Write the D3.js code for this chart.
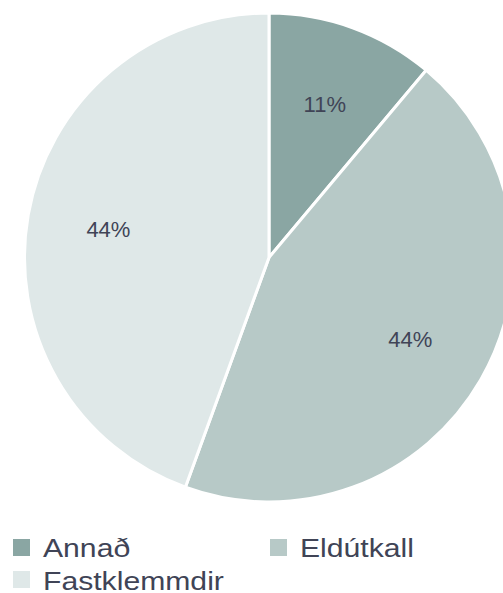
<!DOCTYPE html>
<html>
<head>
<meta charset="utf-8">
<script src="https://cdn.jsdelivr.net/npm/d3@7"></script>
<style>
  body { margin: 0; background: #fff; }
</style>
</head>
<body>
<div id="chart"></div>
<script>
// Data
const categories = ["Annað", "Eldútkall", "Fastklemmdir"];
const counts = [5, 20, 20];
const colors = ["#8aa6a3", "#b7c9c7", "#dfe8e8"];

const width = 503, height = 593;
const cx = 269, cy = 257.5, radius = 244.5;

const svg = d3.select("#chart")
  .append("svg")
    .attr("width", width)
    .attr("height", height);

const data = categories.map((c, i) => ({ name: c, value: counts[i], color: colors[i] }));
const total = d3.sum(counts);

// Pie starting at 12 o'clock, clockwise
const pie = d3.pie()
  .value(d => d.value)
  .sort(null);

const arc = d3.arc()
  .innerRadius(0)
  .outerRadius(radius);

const labelArc = d3.arc()
  .innerRadius(radius * 0.667)
  .outerRadius(radius * 0.667);

const g = svg.append("g")
  .attr("transform", `translate(${cx},${cy})`);

const slices = g.selectAll(".slice")
  .data(pie(data))
  .enter().append("g")
  .attr("class", "slice");

slices.append("path")
  .attr("d", arc)
  .attr("fill", d => d.data.color)
  .attr("stroke", "#fff")
  .attr("stroke-width", 3)
  .attr("stroke-linejoin", "round");

slices.append("text")
  .attr("transform", d => `translate(${labelArc.centroid(d)})`)
  .attr("text-anchor", "middle")
  .attr("dy", "0.35em")
  .style("font-family", "'Liberation Sans', Arial, sans-serif")
  .style("font-size", "22px")
  .style("fill", "#404456")
  .text(d => Math.round(d.data.value / total * 100) + "%");

// Legend
const legendPos = [[13, 539], [270, 539], [13, 571]];

const legend = svg.selectAll(".legend")
  .data(data)
  .enter().append("g")
  .attr("class", "legend")
  .attr("transform", (d, i) => `translate(${legendPos[i][0]},${legendPos[i][1]})`);

legend.append("rect")
  .attr("width", 17)
  .attr("height", 17)
  .style("fill", d => d.color);

legend.append("text")
  .attr("transform", (d, i) => `translate(30,${i === 2 ? 19 : 18}) scale(1.16,1)`)
  .style("font-family", "'Liberation Sans', Arial, sans-serif")
  .style("font-size", "26px")
  .style("fill", "#404456")
  .text(d => d.name);
</script>
</body>
</html>
